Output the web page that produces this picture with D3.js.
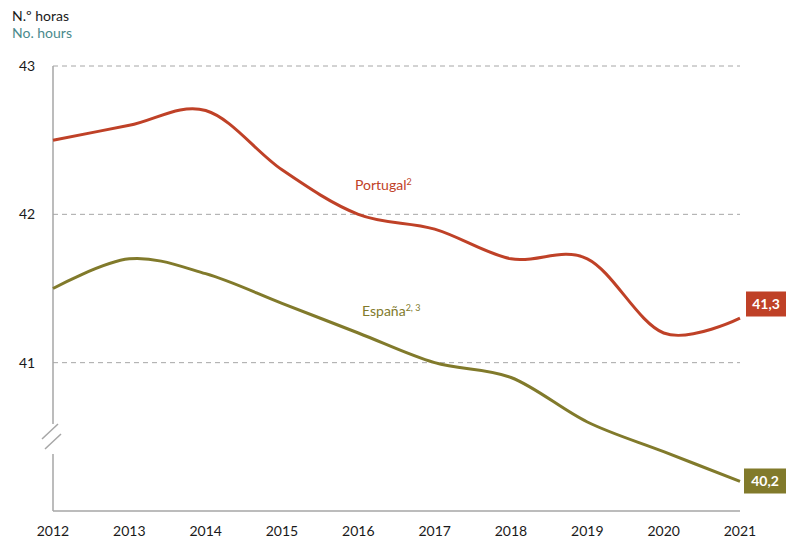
<!DOCTYPE html>
<html>
<head>
<meta charset="utf-8">
<script src="https://cdn.jsdelivr.net/npm/d3@7"></script>
<style>
  body { margin: 0; background: #ffffff; }
  svg { display: block; font-family: Lato, "Open Sans", sans-serif; }
</style>
</head>
<body>
<div id="chart"></div>
<script>
const years = [2012, 2013, 2014, 2015, 2016, 2017, 2018, 2019, 2020, 2021];
const portugal = [42.5, 42.6, 42.7, 42.3, 42.0, 41.9, 41.7, 41.7, 41.2, 41.3];
const espana = [41.5, 41.7, 41.6, 41.4, 41.2, 41.0, 40.9, 40.6, 40.4, 40.2];
const yTicks = [41, 42, 43];

const width = 787;
const height = 541;
const red = "#bf4127";
const olive = "#817a2b";

const x = d3.scaleLinear().domain([2012, 2021]).range([53, 740]);
const y = d3.scaleLinear().domain([40, 43]).range([511, 66]);

const svg = d3.select("#chart").append("svg")
    .attr("width", width)
    .attr("height", height);

// titles
svg.append("text").attr("x", 12).attr("y", 21)
    .attr("font-size", 14).attr("fill", "#1a1a1a").text("N.º horas");
svg.append("text").attr("x", 12).attr("y", 38)
    .attr("font-size", 14).attr("fill", "#4a8a8c").text("No. hours");

// gridlines
svg.append("g").selectAll("line")
    .data(yTicks)
    .enter().append("line")
    .attr("x1", x(2012)).attr("x2", x(2021))
    .attr("y1", d => y(d)).attr("y2", d => y(d))
    .attr("stroke", "#a6a6a6")
    .attr("stroke-dasharray", "5,4");

// y tick labels
svg.append("g").selectAll("text")
    .data(yTicks)
    .enter().append("text")
    .attr("x", 27).attr("y", d => y(d) + 5)
    .attr("text-anchor", "middle")
    .attr("font-size", 14).attr("fill", "#1a1a1a")
    .text(d => d);

// left axis with break
const axisColor = "#a6a6a6";
svg.append("line").attr("x1", x(2012)).attr("x2", x(2012))
    .attr("y1", y(43)).attr("y2", 424).attr("stroke", axisColor).attr("stroke-width", 1.5);
svg.append("line").attr("x1", x(2012)).attr("x2", x(2012))
    .attr("y1", 454).attr("y2", y(40)).attr("stroke", axisColor).attr("stroke-width", 1.5);
svg.append("line").attr("x1", 42).attr("y1", 439).attr("x2", 58).attr("y2", 424)
    .attr("stroke", axisColor).attr("stroke-width", 1.5);
svg.append("line").attr("x1", 45).attr("y1", 449).attr("x2", 61).attr("y2", 434)
    .attr("stroke", axisColor).attr("stroke-width", 1.5);

// bottom axis
svg.append("line").attr("x1", x(2012)).attr("x2", x(2021))
    .attr("y1", y(40)).attr("y2", y(40))
    .attr("stroke", axisColor).attr("stroke-width", 1.5);

svg.append("g").selectAll("text")
    .data(years)
    .enter().append("text")
    .attr("x", d => x(d)).attr("y", 536)
    .attr("text-anchor", "middle")
    .attr("font-size", 14).attr("fill", "#1a1a1a")
    .text(d => d);

// lines
const line = d3.line()
    .x(d => x(d[0]))
    .y(d => y(d[1]))
    .curve(d3.curveCatmullRom.alpha(0));

svg.append("path")
    .datum(years.map((yr, i) => [yr, portugal[i]]))
    .attr("d", line)
    .attr("fill", "none")
    .attr("stroke", red)
    .attr("stroke-width", 3);

svg.append("path")
    .datum(years.map((yr, i) => [yr, espana[i]]))
    .attr("d", line)
    .attr("fill", "none")
    .attr("stroke", olive)
    .attr("stroke-width", 3);

// series labels
const pt = svg.append("text").attr("x", 355).attr("y", 190)
    .attr("font-size", 14).attr("fill", red);
pt.append("tspan").text("Portugal");
pt.append("tspan").attr("font-size", 9).attr("dy", -5).text("2");

const es = svg.append("text").attr("x", 362).attr("y", 316)
    .attr("font-size", 14).attr("fill", olive);
es.append("tspan").text("España");
es.append("tspan").attr("font-size", 9).attr("dy", -5).text("2, 3");

// end value boxes
const ends = [
  { v: portugal[portugal.length - 1], cy: 304, color: red, x0: 746 },
  { v: espana[espana.length - 1], cy: 481, color: olive, x0: 744 }
];
const fmt = v => v.toFixed(1).replace(".", ",");
ends.forEach(e => {
  svg.append("rect")
      .attr("x", e.x0).attr("y", e.cy - 12.5)
      .attr("width", 787 - e.x0 - 1).attr("height", 25)
      .attr("fill", e.color);
  svg.append("text")
      .attr("x", e.x0 + (787 - e.x0 - 1) / 2).attr("y", e.cy + 5)
      .attr("text-anchor", "middle")
      .attr("font-size", 14).attr("font-weight", "bold").attr("fill", "#ffffff")
      .text(fmt(e.v));
});
</script>
</body>
</html>
